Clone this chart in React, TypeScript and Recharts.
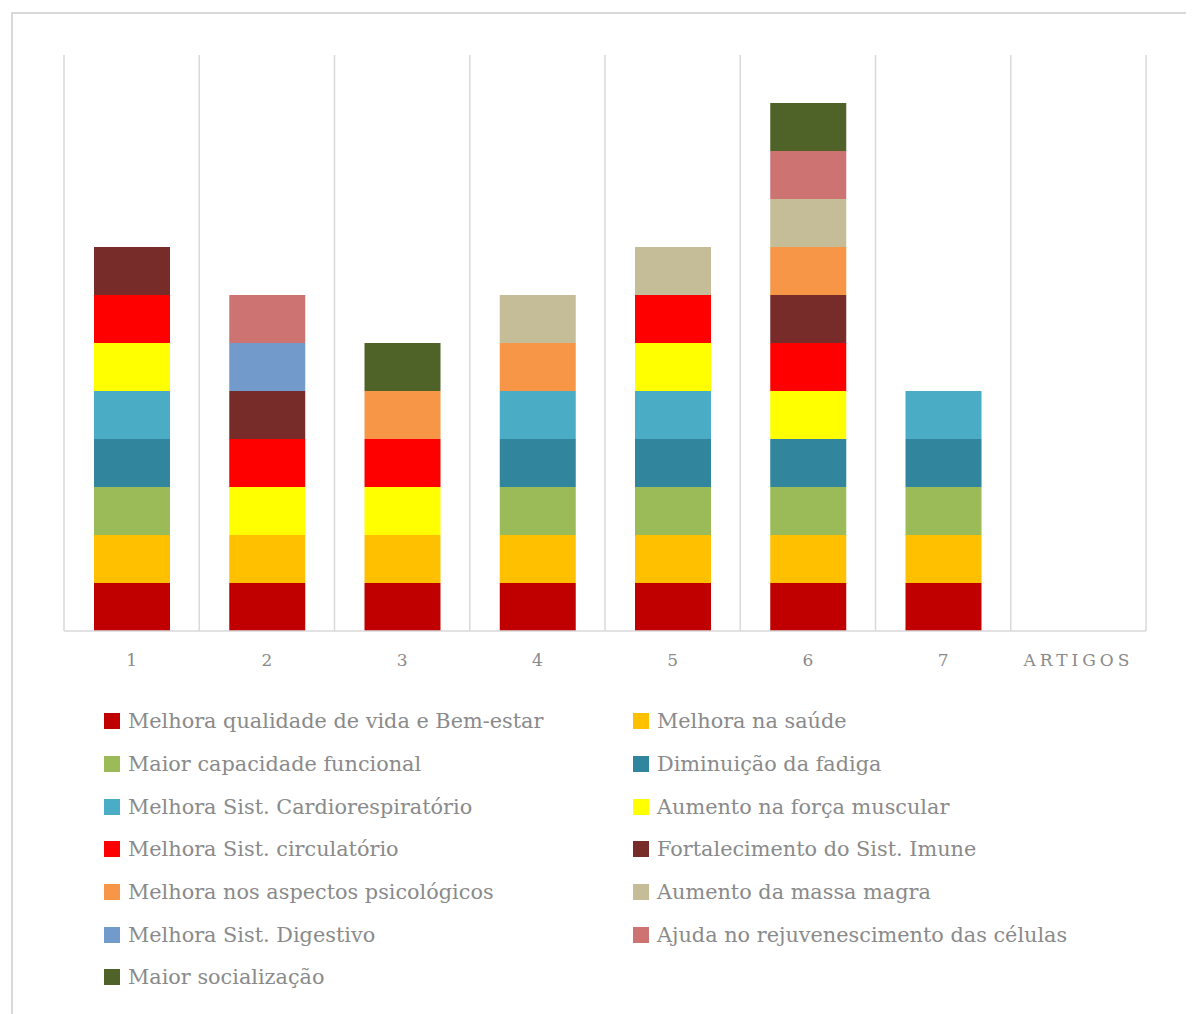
import React from "react";
import { BarChart, Bar, XAxis, YAxis, CartesianGrid } from "recharts";

// Categorias (artigos)
const categories = ["1", "2", "3", "4", "5", "6", "7", "ARTIGOS"];

// Benefícios citados (ordem de empilhamento)
const seriesNames = [
  "Melhora qualidade de vida e Bem-estar",
  "Melhora na saúde",
  "Maior capacidade funcional",
  "Diminuição da fadiga",
  "Melhora Sist. Cardiorespiratório",
  "Aumento na força muscular",
  "Melhora Sist. circulatório",
  "Fortalecimento do Sist. Imune",
  "Melhora nos aspectos psicológicos",
  "Aumento da massa magra",
  "Melhora Sist. Digestivo",
  "Ajuda no rejuvenescimento das células",
  "Maior socialização",
];

const seriesColors = [
  "#C00000",
  "#FFC000",
  "#9BBB59",
  "#31859C",
  "#4BACC6",
  "#FFFF00",
  "#FF0000",
  "#772C2A",
  "#F79646",
  "#C4BD97",
  "#729ACA",
  "#CD7371",
  "#4F6228",
];

// 1 = benefício citado no artigo
const qualidadeVida = [1, 1, 1, 1, 1, 1, 1, 0];
const saude = [1, 1, 1, 1, 1, 1, 1, 0];
const capacidadeFuncional = [1, 0, 0, 1, 1, 1, 1, 0];
const fadiga = [1, 0, 0, 1, 1, 1, 1, 0];
const cardio = [1, 0, 0, 1, 1, 0, 1, 0];
const forca = [1, 1, 1, 0, 1, 1, 0, 0];
const circulatorio = [1, 1, 1, 0, 1, 1, 0, 0];
const imune = [1, 1, 0, 0, 0, 1, 0, 0];
const psicologicos = [0, 0, 1, 1, 0, 1, 0, 0];
const massaMagra = [0, 0, 0, 1, 1, 1, 0, 0];
const digestivo = [0, 1, 0, 0, 0, 0, 0, 0];
const rejuvenescimento = [0, 1, 0, 0, 0, 1, 0, 0];
const socializacao = [0, 0, 1, 0, 0, 1, 0, 0];

const seriesValues = [
  qualidadeVida,
  saude,
  capacidadeFuncional,
  fadiga,
  cardio,
  forca,
  circulatorio,
  imune,
  psicologicos,
  massaMagra,
  digestivo,
  rejuvenescimento,
  socializacao,
];

const data = categories.map((cat, i) => {
  const row: Record<string, string | number> = { artigo: cat };
  seriesValues.forEach((vals, s) => {
    row[`s${s}`] = vals[i];
  });
  return row;
});

const FONT = '"DejaVu Serif", Georgia, serif';
const GRID = "#d9d9d9";
const TEXT = "#8a8a8a";

const Tick = (props: any) => {
  const { x, y, payload } = props;
  const isLabel = payload.value === "ARTIGOS";
  return (
    <text
      x={x}
      y={y + 27}
      textAnchor="middle"
      fill={TEXT}
      fontFamily={FONT}
      fontSize={17}
      letterSpacing={isLabel ? 4 : 0}
    >
      {payload.value}
    </text>
  );
};

export default function App() {
  return (
    <div
      style={{
        position: "relative",
        width: 1186,
        height: 1006,
        overflow: "hidden",
        background: "#fff",
      }}
    >
      <div
        style={{
          position: "absolute",
          left: 3,
          top: 4,
          width: 1220,
          height: 1040,
          border: `2px solid ${GRID}`,
          boxSizing: "border-box",
        }}
      />
      <div style={{ position: "absolute", left: 0, top: 0 }}>
        <BarChart
          width={1186}
          height={670}
          data={data}
          margin={{ top: 47, right: 48, left: 56, bottom: 7 }}
          barSize={76}
        >
          <CartesianGrid
            horizontal={false}
            stroke={GRID}
            strokeWidth={1.5}
            verticalCoordinatesGenerator={({ offset }: any) =>
              categories
                .map((_, i) => offset.left + (i * offset.width) / categories.length)
                .concat(offset.left + offset.width)
            }
          />
          <YAxis hide domain={[0, 12]} />
          <XAxis
            dataKey="artigo"
            height={40}
            axisLine={{ stroke: GRID, strokeWidth: 1.5 }}
            tickLine={false}
            tick={<Tick />}
            interval={0}
          />
          {seriesNames.map((name, s) => (
            <Bar
              key={name}
              dataKey={`s${s}`}
              name={name}
              stackId="a"
              fill={seriesColors[s]}
              isAnimationActive={false}
            />
          ))}
        </BarChart>
      </div>
      <div
        style={{
          position: "absolute",
          left: 96,
          top: 692,
          width: 1000,
          display: "grid",
          gridTemplateColumns: "529px 470px",
          gridAutoRows: "42.7px",
          fontFamily: FONT,
          fontSize: 20.8,
          color: TEXT,
        }}
      >
        {seriesNames.map((name, s) => (
          <div key={name} style={{ display: "flex", alignItems: "center" }}>
            <span
              style={{
                display: "inline-block",
                width: 16,
                height: 16,
                background: seriesColors[s],
                marginRight: 8,
                flexShrink: 0,
              }}
            />
            <span>{name}</span>
          </div>
        ))}
      </div>
    </div>
  );
}
